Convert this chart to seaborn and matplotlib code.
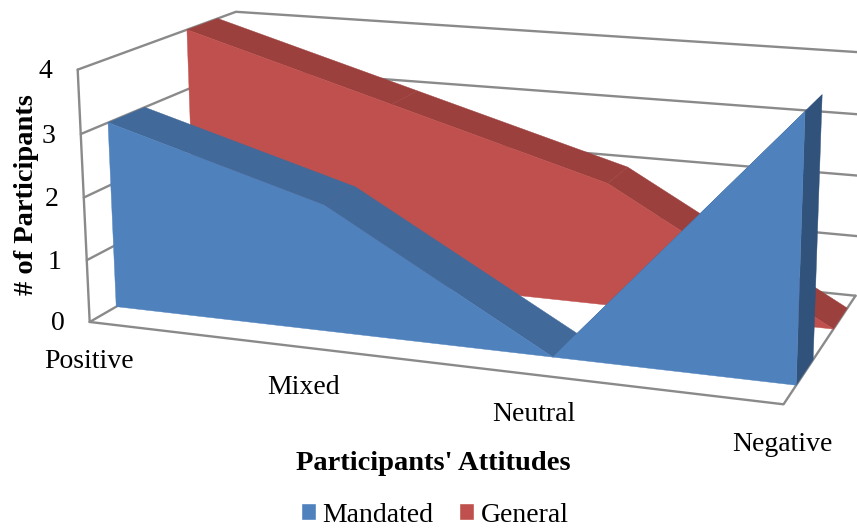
import numpy as np
import pandas as pd
import matplotlib
matplotlib.use("Agg")
import matplotlib.pyplot as plt
from matplotlib.patches import Patch
import seaborn as sns

# Survey counts per attitude
categories = ["Positive", "Mixed", "Neutral", "Negative"]
mandated = [3, 2, 0, 4]
general = [4, 3, 2, 0]
value_ticks = [0, 1, 2, 3, 4]

# Depth band occupied by each series inside the chart box (0 = front, 1 = back)
depth_bands = {"Mandated": (0.155, 0.375), "General": (0.66, 0.87)}

# Reference points of the perspective box: (category, value, depth) -> pixel
box_world = np.array([
    (0, 0, 0), (3, 0, 0), (0, 4, 0), (0, 4, 1), (0, 0, 1), (3, 0, 1), (3, 4, 1),
    (0, 3, .17), (0, 0, .17), (3, 4, .17), (3, 0, .17), (1, 2, .17), (2, 0, .17),
    (0, 3, .39), (3, 4, .39), (3, 0, .39), (1, 2, .39), (2, 0, .39),
    (0, 4, .67), (2, 2, .67), (3, 0, .67), (0, 4, .87), (2, 2, .87), (3, 0, .87),
], dtype=float)
box_pixel = np.array([
    (90, 322), (784, 404), (78, 69), (237, 11), (244, 233), (856, 295), (865, 53),
    (108, 123), (116, 307), (807, 110), (796, 384), (328, 205), (553, 356),
    (143, 110), (822, 97), (812, 360), (352, 188), (575, 335),
    (187, 30), (608, 183), (832, 328), (217, 20), (628, 168), (847, 308),
], dtype=float)
# The box corners count for more in the camera fit
box_weight = np.array([4, 4, 4, 2, 1, 3, 2] + [1] * 17, dtype=float)


def fit_camera(world, pixel, weight):
    rows, rhs = [], []
    for (x, y, z), (u, v), w in zip(world, pixel, weight):
        rows.append(w * np.array([x, y, z, 1, 0, 0, 0, 0, -u * x, -u * y, -u * z]))
        rows.append(w * np.array([0, 0, 0, 0, x, y, z, 1, -v * x, -v * y, -v * z]))
        rhs += [w * u, w * v]
    sol = np.linalg.lstsq(np.array(rows), np.array(rhs), rcond=None)[0]
    return np.append(sol, 1).reshape(3, 4)


CAMERA = fit_camera(box_world, box_pixel, box_weight)


def project(x, y, z):
    x, y, z = np.broadcast_arrays(np.asarray(x, float), np.asarray(y, float), np.asarray(z, float))
    pts = CAMERA @ np.stack([x, y, z, np.ones_like(x)])
    return pts[0] / pts[2], pts[1] / pts[2]


def polygon(ax, xs, ys, zs, color):
    u, v = project(xs, ys, zs)
    ax.fill(u, v, facecolor=color, edgecolor=color, linewidth=0.3, zorder=3)


def draw_area(ax, values, band, face, top, side):
    z0, z1 = band
    xs = np.arange(len(values))
    vals = np.asarray(values, float)
    for i in range(len(vals) - 1):
        polygon(ax, [xs[i], xs[i + 1], xs[i + 1], xs[i]], [vals[i], vals[i + 1], vals[i + 1], vals[i]],
                [z0, z0, z1, z1], top)
    if vals[-1] > 0:
        polygon(ax, [xs[-1]] * 4, [0, vals[-1], vals[-1], 0], [z0, z0, z1, z1], side)
    polygon(ax, np.r_[xs, xs[-1], xs[0]], np.r_[vals, 0, 0], np.full(len(xs) + 2, z0), face)


def frame_line(ax, x, y, z):
    u, v = project(x, y, z)
    data = pd.DataFrame({"u": u, "v": v})
    sns.lineplot(data=data, x="u", y="v", ax=ax, color=LINE, linewidth=1.7,
                 sort=False, estimator=None, legend=False, zorder=1)


sns.set_theme(style="white")
plt.rcParams["font.family"] = ["Liberation Serif", "DejaVu Serif"]
LINE = "#8a8a8a"
BLUE, RED = sns.color_palette(["#4F81BD", "#C0504D"])

fig = plt.figure(figsize=(8.57, 5.29), dpi=100)
ax = fig.add_axes([0, 0, 1, 1])

xmax = len(categories) - 1
for val in value_ticks:
    frame_line(ax, [0, 0, xmax], [val, val, val], [0, 1, 1])
frame_line(ax, [0, 0], [0, value_ticks[-1]], [0, 0])
frame_line(ax, [0, xmax, xmax], [0, 0, 0], [0, 0, 1])

draw_area(ax, general, depth_bands["General"], RED, "#9C403E", "#7a3230")
draw_area(ax, mandated, depth_bands["Mandated"], BLUE, "#41699A", "#31527B")

ax.set_xlim(0, 857)
ax.set_ylim(529, 0)
ax.set_axis_off()

label_size = 20
title_size = 20.5
for val in value_ticks:
    u, v = project(0, val, 0)
    ax.text(u - 32, v + 2, str(val), ha="center", va="center", fontsize=label_size, color="black")
for i, name in enumerate(categories):
    u, v = project(i, 0, 0)
    ax.text(u - 1, v + 40, name, ha="center", va="center", fontsize=label_size, color="black")

ax.text(27, 195, "# of Participants", rotation=90, ha="center", va="center",
        fontsize=title_size, fontweight="bold", color="black")
ax.text(433, 463, "Participants' Attitudes", ha="center", va="center",
        fontsize=title_size, fontweight="bold", color="black")

handles = [Patch(facecolor=BLUE, label="Mandated"), Patch(facecolor=RED, label="General")]
ax.legend(handles=handles, ncol=2, loc="center", bbox_to_anchor=(435, 515),
          bbox_transform=ax.transData, frameon=False, fontsize=label_size, labelcolor="black",
          handlelength=0.54, handleheight=0.54, handletextpad=0.22, columnspacing=0.93,
          borderpad=0, borderaxespad=0)

fig.savefig("out.png", dpi=100)
